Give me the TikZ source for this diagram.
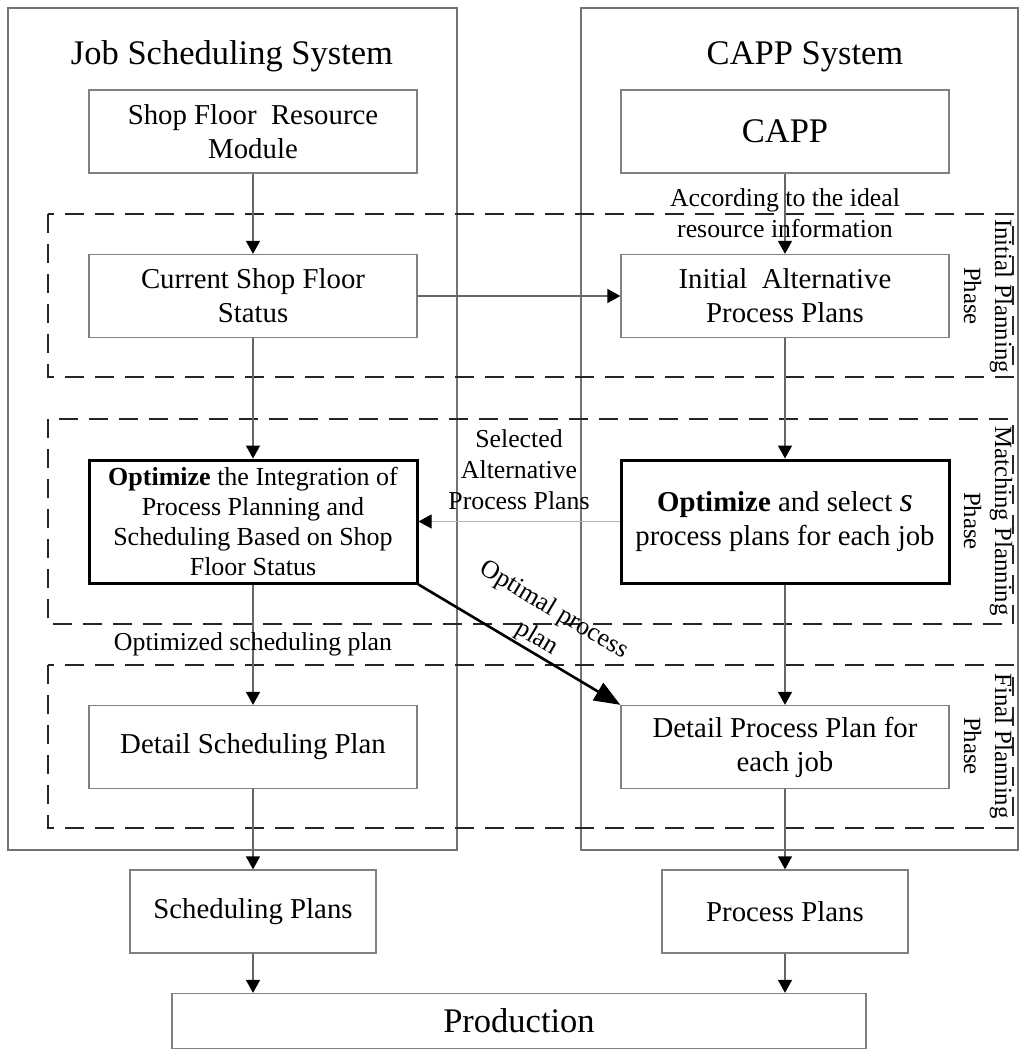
\documentclass[tikz,border=0pt]{standalone}
\usepackage{fontspec}
\setmainfont{Liberation Serif}
\usepackage{tikz}
\usetikzlibrary{arrows.meta,positioning}
\tikzstyle{module} = [rectangle,
minimum width=328pt,
minimum height=83pt,
align=center,
inner sep=2pt,
draw=black!50,
line width=1.3pt,
font=\fontsize{28.8}{34}\selectfont]
\tikzstyle{keymodule} = [module, minimum height=123pt, draw=black, line width=3pt]
\tikzstyle{frame} = [draw=black!55, line width=1.3pt]
\tikzstyle{phasebox} = [draw=black!85, line width=2.8pt, dash pattern=on 19pt off 11pt]
\tikzstyle{heading} = [font=\fontsize{34.5}{40}\selectfont]
\tikzstyle{note} = [align=center, inner sep=1pt, font=\fontsize{25.8}{31}\selectfont]
\tikzstyle{phaselabel} = [align=center, rotate=-90, inner sep=0pt, font=\fontsize{24.8}{31}\selectfont]
\tikzstyle{arrow} = [draw=black!60, line width=1.4pt, -{Triangle[length=13pt,width=14pt,color=black]}]
\tikzstyle{bigarrow} = [draw=black, line width=2.6pt, -{Triangle[length=26pt,width=20pt]}]

\begin{document}
\begin{tikzpicture}[x=1pt, y=-1pt]
				\useasboundingbox (0,0) rectangle (1023,1050);

				% the two systems
				\draw[frame] (8,8) rectangle (457,850);
				\draw[frame] (581,8) rectangle (1018,850);
				\node[heading, anchor=base] (jss) at (232,64) {Job Scheduling System};
				\node[heading, anchor=base] (caps) at (805,64) {CAPP System};

				% the three phases
				\draw[phasebox] (48,214) rectangle (1013,377);
				\draw[phasebox] (48,419) rectangle (1013,624);
				\draw[phasebox] (48,665) rectangle (1013,828);
				\node[phaselabel] (ph-i) at (988,296) {Initial Planning\\Phase};
				\node[phaselabel] (ph-m) at (988,521) {Matching Planning\\Phase};
				\node[phaselabel] (ph-f) at (988,746) {Final Planning\\Phase};

				\node[module] (sfr) at (253,131.5) {Shop Floor\ \ Resource\\Module};
				\node[module, font=\fontsize{34.5}{40}\selectfont] (capp) at (785,131.5) {CAPP};
				\node[module] (csf) at (253,296) {Current Shop Floor\\Status};
				\node[module] (iapp) at (785,296) {Initial\ \ Alternative\\Process Plans};
				\node[keymodule, font=\fontsize{26}{30}\selectfont] (opt-l) at (253,521.5) {\textbf{Optimize} the Integration of\\Process Planning and\\Scheduling Based on Shop\\Floor Status};
				\node[keymodule] (opt-r) at (785,521.5) {\textbf{Optimize} and select {\itshape\fontsize{34}{34}\selectfont s}\\process plans for each job};
				\node[module] (dsp) at (253,747) {Detail Scheduling Plan};
				\node[module] (dpp) at (785,747) {Detail Process Plan for\\each job};
				\node[module, minimum width=246pt] (sp) at (253,911.5) {Scheduling Plans};
				\node[module, minimum width=246pt] (pp) at (785,911.5) {Process Plans};
				\node[module, minimum width=694pt, minimum height=55pt, font=\fontsize{34.5}{40}\selectfont] (prod) at (519,1021) {Production};

				\draw[arrow] (sfr) -- (csf);
				\draw[arrow] (capp) -- (iapp);
				\node[note] (ideal) at (785,213) {According to the ideal\\resource information};
				\draw[arrow] (csf) -- (iapp);
				\draw[arrow] (csf) -- (opt-l);
				\draw[arrow] (iapp) -- (opt-r);
				\draw[arrow, draw=black!30, line width=1pt] (opt-r) -- node[note, above=10pt] (sel) {Selected\\Alternative\\Process Plans} (opt-l);
				\draw[arrow] (opt-l) -- node[note] (osp) {Optimized scheduling plan} (dsp);
				\draw[arrow] (opt-r) -- (dpp);
				\draw[bigarrow] (opt-l.south east) -- node[note, sloped, above, pos=0.55, font=\fontsize{25.8}{33}\selectfont] (opp) {Optimal process\\plan} (dpp.north west);
				\draw[arrow] (dsp) -- (sp);
				\draw[arrow] (dpp) -- (pp);
				\draw[arrow] (sp) -- (sp |- prod.north);
				\draw[arrow] (pp) -- (pp |- prod.north);
			\end{tikzpicture}
\end{document}
